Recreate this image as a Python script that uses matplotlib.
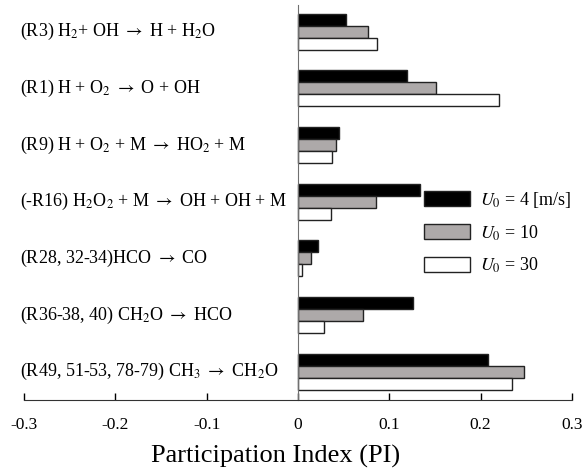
import matplotlib
matplotlib.use("Agg")
import matplotlib.pyplot as plt
import numpy as np

plt.rcParams['font.family'] = ['Liberation Serif', 'DejaVu Serif']
plt.rcParams['mathtext.fontset'] = 'stix'

A = r' $\rightarrow$ '
reactions = [
    '(R3) H$_2$+ OH' + A + 'H + H$_2$O',
    '(R1) H + O$_2$' + A + 'O + OH',
    '(R9) H + O$_2$ + M' + A + 'HO$_2$ + M',
    '(-R16) H$_2$O$_2$ + M' + A + 'OH + OH + M',
    '(R28, 32-34)HCO' + A + 'CO',
    '(R36-38, 40) CH$_2$O' + A + 'HCO',
    '(R49, 51-53, 78-79) CH$_3$' + A + 'CH$_2$O',
]
pi_u4 = [0.053, 0.119, 0.045, 0.134, 0.0215, 0.126, 0.208]
pi_u10 = [0.077, 0.151, 0.042, 0.085, 0.014, 0.0715, 0.247]
pi_u30 = [0.087, 0.220, 0.037, 0.036, 0.004, 0.028, 0.234]
series_labels = [r'$U_0$ = 4 [m/s]', r'$U_0$ = 10', r'$U_0$ = 30']
xticks = [-0.3, -0.2, -0.1, 0, 0.1, 0.2, 0.3]
xtick_labels = ['-0.3', '-0.2', '-0.1', '0', '0.1', '0.2', '0.3']

fig = plt.figure(figsize=(5.84, 4.72), dpi=100)
ax = fig.add_axes([24/584, 72/472, 548/584, 395/472])

n = len(reactions)
y = np.arange(n)[::-1].astype(float)
h = 0.212
colors = ['#000000', '#ADA9A9', '#FFFFFF']
for i, (vals, col, lab) in enumerate(zip([pi_u4, pi_u10, pi_u30], colors, series_labels)):
    ax.barh(y + (1 - i) * h, vals, height=h, color=col, edgecolor='#222222',
            linewidth=1.0, label=lab)

ax.set_xlim(-0.3, 0.3)
ax.set_ylim(-0.5, 6.47)
ax.set_xticks(xticks)
ax.set_xticklabels(xtick_labels, fontsize=12.5)
ax.set_yticks([])
ax.tick_params(axis='x', direction='in', length=5, width=1, pad=12.5)
for s in ['top', 'right']:
    ax.spines[s].set_visible(False)
ax.spines['left'].set_position(('data', 0))
ax.spines['left'].set_color('#707070')
ax.spines['bottom'].set_color('#333333')
fig.text(276 / 584, 1 - 456 / 472, 'Participation Index (PI)', fontsize=19,
         ha='center', va='center')

for yi, lab in zip(y, reactions):
    ax.text(-0.0075, yi, lab, transform=ax.get_yaxis_transform(), ha='left', va='center',
            fontsize=13)

ax.legend(loc='center left', bbox_to_anchor=(0.73, 0.424), frameon=False, fontsize=13,
          borderpad=0, borderaxespad=0, handlelength=2.55, handleheight=0.9,
          labelspacing=0.74, handletextpad=0.55)

fig.savefig('out.png', dpi=100)
